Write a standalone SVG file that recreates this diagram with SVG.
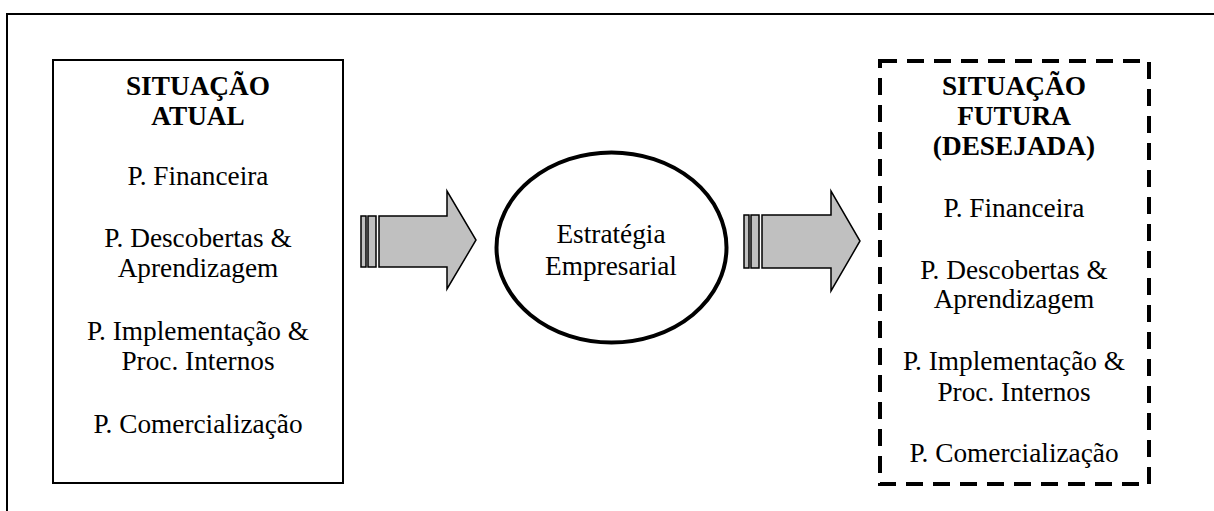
<svg xmlns="http://www.w3.org/2000/svg" width="1214" height="511" viewBox="0 0 1214 511">
  <style>
    .txt { font-family: "Liberation Serif", "Times New Roman", serif; font-size: 27.3px; fill: #000; text-anchor: middle; }
    .bold { font-weight: bold; }
    .frame { fill: none; stroke: #000; stroke-width: 2; }
    .box { fill: #fff; stroke: #000; stroke-width: 2; }
    .dashbox { fill: #fff; stroke: #000; stroke-width: 4; stroke-dasharray: 17 10; }
    .arrow { fill: #c0c0c0; stroke: #000; stroke-width: 1.5; stroke-linejoin: miter; }
  </style>

  <rect width="1214" height="511" fill="#fff"/>
  <!-- outer frame (open to the right and bottom) -->
  <path class="frame" d="M7 511 V14 H1214"/>

  <g id="situacao-atual">
    <rect class="box" x="53" y="60" width="290" height="423"/>
    <text class="txt bold" x="198" y="95">SITUAÇÃO</text>
    <text class="txt bold" x="198" y="125">ATUAL</text>
    <text class="txt" x="198" y="185">P. Financeira</text>
    <text class="txt" x="198" y="247">P. Descobertas &amp;</text>
    <text class="txt" x="198" y="277">Aprendizagem</text>
    <text class="txt" x="198" y="340">P. Implementação &amp;</text>
    <text class="txt" x="198" y="370">Proc. Internos</text>
    <text class="txt" x="198" y="433">P. Comercialização</text>
  </g>

  <g id="estrategia">
    <ellipse cx="611.5" cy="247.5" rx="115" ry="95" fill="#fff" stroke="#000" stroke-width="4"/>
    <text class="txt" x="611" y="243">Estratégia</text>
    <text class="txt" x="611" y="275">Empresarial</text>
  </g>

  <g id="situacao-futura">
    <rect class="dashbox" x="880" y="61" width="269" height="423"/>
    <text class="txt bold" x="1014" y="95">SITUAÇÃO</text>
    <text class="txt bold" x="1014" y="125">FUTURA</text>
    <text class="txt bold" x="1014" y="155">(DESEJADA)</text>
    <text class="txt" x="1014" y="217">P. Financeira</text>
    <text class="txt" x="1014" y="279">P. Descobertas &amp;</text>
    <text class="txt" x="1014" y="308">Aprendizagem</text>
    <text class="txt" x="1014" y="370">P. Implementação &amp;</text>
    <text class="txt" x="1014" y="401">Proc. Internos</text>
    <text class="txt" x="1014" y="462">P. Comercialização</text>
  </g>

  <g id="connectors">
    <!-- striped block arrow: atual -> estratégia -->
    <rect class="arrow" x="361" y="216" width="5" height="51"/>
    <rect class="arrow" x="368" y="216" width="8" height="51"/>
    <polygon class="arrow" points="379,216 447,216 447,191 476,240 447,289 447,267 379,267"/>
    <!-- striped block arrow: estratégia -> futura -->
    <rect class="arrow" x="744" y="215" width="5" height="53"/>
    <rect class="arrow" x="751" y="215" width="8" height="53"/>
    <polygon class="arrow" points="762,215 831,215 831,191 860,241 831,291 831,268 762,268"/>
  </g>
</svg>
